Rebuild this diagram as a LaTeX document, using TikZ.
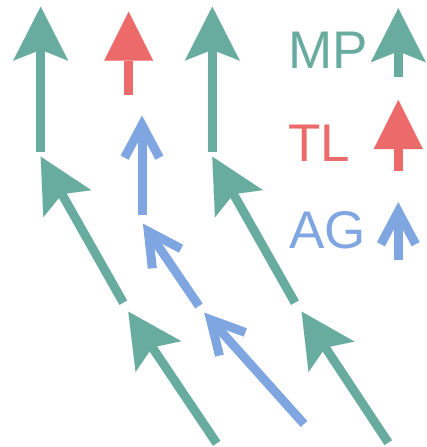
\documentclass[tikz,border=0pt]{standalone}
\usepackage{fontspec}
\setmainfont{Liberation Sans}
\usetikzlibrary{arrows.meta,calc}
\definecolor{mpgreen}{RGB}{103,172,159}
\definecolor{tlred}{RGB}{236,106,105}
\definecolor{agblue}{RGB}{127,166,224}
\begin{document}
\begin{tikzpicture}[x=1pt,y=-1pt,
  mp/.style={draw=mpgreen,line width=9pt,-{Stealth[length=54pt,width=55pt,inset=11pt,line width=0.01pt,fill=mpgreen]}},
  tl/.style={draw=tlred,line width=9pt,-{Triangle[length=49pt,width=49pt,line width=0.01pt,fill=tlred]}},
  ag/.style={draw=agblue,line width=9pt},
  agbarb/.style={draw=agblue,line width=9pt,line join=miter},
  lbl/.style={anchor=base west,inner sep=0pt,font=\fontsize{53}{53}\selectfont}]
\useasboundingbox (0,0) rectangle (426,447);
% green MP arrows
\coordinate (g1s) at (40.7,152); \coordinate (g1t) at (40.7,6.7);
\coordinate (g2s) at (212.3,152); \coordinate (g2t) at (212.3,6.7);
\coordinate (g3s) at (123.3,302.7); \coordinate (g3t) at (40.7,156.7);
\coordinate (g4s) at (216.7,443.3); \coordinate (g4t) at (128.3,311.7);
\coordinate (g5s) at (295,302.7); \coordinate (g5t) at (212.3,156.7);
\coordinate (g6s) at (388.3,442.7); \coordinate (g6t) at (301.7,311.7);
\foreach \i in {1,...,6} {\draw[mp] (g\i s) -- (g\i t);}
% red TL arrow
\coordinate (r1s) at (128.7,95); \coordinate (r1t) at (128.7,11.7);
\draw[tl] (r1s) -- (r1t);
% blue AG arrows
\coordinate (b1s) at (142,215); \coordinate (b1t) at (142,125);
\coordinate (b2s) at (199,306); \coordinate (b2t) at (148.3,231.5);
\coordinate (b3s) at (304,424); \coordinate (b3t) at (210.6,319.7);
\foreach \i in {1,2,3} {
  \draw[ag] (b\i s) -- (b\i t);
  \draw[agbarb] ($(b\i t)!37pt!28:(b\i s)$) -- (b\i t) -- ($(b\i t)!37pt!-28:(b\i s)$);
}
% legend
\node[lbl,text=mpgreen] (mplabel) at (288,68.3) {MP};
\node[lbl,text=tlred] (tllabel) at (288,161) {TL};
\node[lbl,text=agblue] (aglabel) at (289,248.3) {AG};
\coordinate (lgs) at (398.3,76.7); \coordinate (lgt) at (398.3,8.3);
\draw[mp] (lgs) -- (lgt);
\coordinate (lrs) at (398.3,170.7); \coordinate (lrt) at (398.3,100);
\draw[tl] (lrs) -- (lrt);
\coordinate (lbs) at (398.3,260); \coordinate (lbt) at (398.3,211.6);
\draw[ag] (lbs) -- (lbt);
\draw[agbarb] ($(lbt)!37pt!28:(lbs)$) -- (lbt) -- ($(lbt)!37pt!-28:(lbs)$);
\end{tikzpicture}
\end{document}
